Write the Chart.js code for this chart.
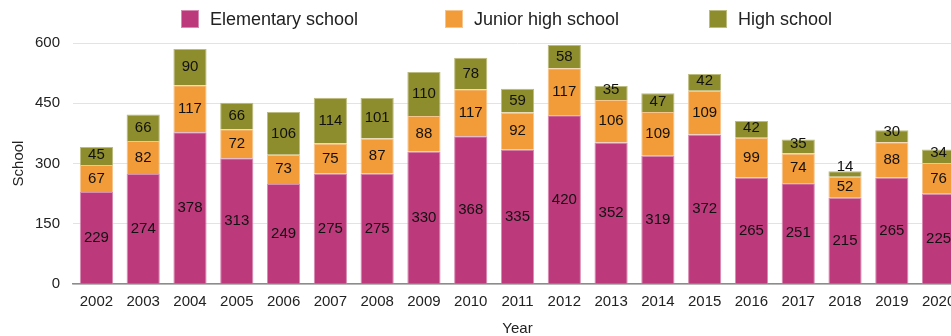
<!DOCTYPE html>
<html>
<head>
<meta charset="utf-8">
<script src="https://cdn.jsdelivr.net/npm/chart.js@4.4.1/dist/chart.umd.min.js"></script>
<style>
html,body{margin:0;padding:0;overflow:hidden;background:#fff;width:951px;height:336px}
#wrap{position:relative;width:1000px;height:336px}
</style>
</head>
<body>
<div id="wrap"><canvas id="c"></canvas></div>
<script>
const years = ['2002','2003','2004','2005','2006','2007','2008','2009','2010','2011','2012','2013','2014','2015','2016','2017','2018','2019','2020'];
const elementary = [229,274,378,313,249,275,275,330,368,335,420,352,319,372,265,251,215,265,225];
const juniorHigh = [67,82,117,72,73,75,87,88,117,92,117,106,109,109,99,74,52,88,76];
const highSchool = [45,66,90,66,106,114,101,110,78,59,58,35,47,42,42,35,14,30,34];
const yTicks = [0,150,300,450,600];
const seriesNames = ['Elementary school','Junior high school','High school'];
const seriesColors = ['#BC3A7B','#F19B39','#8E8D2E'];
const seriesBorders = ['#D88AB2','#F7C58C','#BDBC80'];

const FONT = '"Liberation Sans", Arial, Helvetica, sans-serif';
Chart.defaults.font.family = FONT;
Chart.defaults.font.size = 15;
Chart.defaults.color = '#222';

const valueLabels = {
  id: 'valueLabels',
  afterDatasetsDraw(chart) {
    const ctx = chart.ctx;
    ctx.save();
    ctx.font = '15px ' + FONT;
    ctx.fillStyle = '#111';
    ctx.textAlign = 'center';
    ctx.textBaseline = 'middle';
    chart.data.datasets.forEach((ds, i) => {
      const meta = chart.getDatasetMeta(i);
      meta.data.forEach((bar, j) => {
        const p = bar.getProps(['x', 'y', 'base'], true);
        const ty = Math.min((p.y + p.base) / 2, p.base - 10);
        ctx.fillText(String(ds.data[j]), p.x, ty);
      });
    });
    ctx.restore();
  }
};

const topLegend = {
  id: 'topLegend',
  afterDraw(chart) {
    const ctx = chart.ctx;
    const left = 181, slot = 264, box = 18, top = 10;
    ctx.save();
    ctx.font = '18px ' + FONT;
    ctx.textBaseline = 'middle';
    ctx.textAlign = 'left';
    chart.data.datasets.forEach((ds, i) => {
      const x = left + i * slot;
      ctx.fillStyle = ds.backgroundColor;
      ctx.fillRect(x, top, box, box);
      ctx.strokeStyle = ds.borderColor;
      ctx.lineWidth = 1;
      ctx.strokeRect(x + 0.5, top + 0.5, box - 1, box - 1);
      ctx.fillStyle = '#222';
      ctx.fillText(ds.label, x + box + 11, top + box / 2 + 1);
    });
    ctx.restore();
  }
};

const series = [elementary, juniorHigh, highSchool];

new Chart(document.getElementById('c'), {
  type: 'bar',
  data: {
    labels: years,
    datasets: series.map((d, i) => ({
      label: seriesNames[i],
      data: d,
      backgroundColor: seriesColors[i],
      borderColor: seriesBorders[i],
      borderWidth: 1,
      barPercentage: 0.71,
      categoryPercentage: 1
    }))
  },
  options: {
    responsive: true,
    maintainAspectRatio: false,
    devicePixelRatio: 1,
    animation: false,
    layout: { padding: { top: 43, right: 38, left: 0, bottom: 0 } },
    plugins: { legend: { display: false }, tooltip: { enabled: false } },
    scales: {
      x: {
        stacked: true,
        grid: { display: false, drawTicks: false },
        border: { display: true, color: '#8c8c8c', width: 1.5 },
        ticks: { padding: 9, color: '#222', maxRotation: 0, autoSkip: false },
        title: { display: true, text: 'Year', color: '#222', font: { size: 15 }, padding: { top: 0, bottom: -2 } }
      },
      y: {
        stacked: true,
        min: 0,
        max: 600,
        afterBuildTicks: (scale) => { scale.ticks = yTicks.map(v => ({ value: v })); },
        grid: { color: '#e3e3e3', drawTicks: false, lineWidth: 1 },
        border: { display: false },
        ticks: { padding: 13, color: '#222' },
        title: { display: true, text: 'School', color: '#222', font: { size: 15 }, padding: { top: 10, bottom: -6 } }
      }
    }
  },
  plugins: [valueLabels, topLegend]
});
</script>
</body>
</html>
